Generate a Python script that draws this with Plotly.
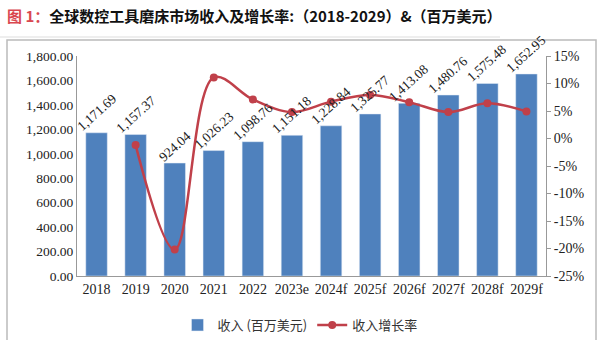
import plotly.graph_objects as go

years = ["2018", "2019", "2020", "2021", "2022", "2023e", "2024f", "2025f", "2026f", "2027f", "2028f", "2029f"]
revenue = [1171.69, 1157.37, 924.04, 1026.23, 1098.76, 1151.18, 1228.84, 1325.77, 1413.08, 1480.76, 1575.48, 1652.95]
growth_years = years[1:]
growth = [-1.2, -20.2, 11.1, 7.1, 4.8, 6.7, 7.9, 6.6, 4.8, 6.4, 4.9]
left_ticks = [0, 200, 400, 600, 800, 1000, 1200, 1400, 1600, 1800]
right_ticks = [-25, -20, -15, -10, -5, 0, 5, 10, 15]

serif = "Liberation Serif"
cjk = "Noto Sans CJK SC"

fig = go.Figure()
fig.add_trace(go.Bar(
    x=years, y=revenue, name="收入 (百万美元)",
    marker=dict(color="#4F81BD"),
))
fig.add_trace(go.Scatter(
    x=growth_years, y=growth, name="收入增长率", yaxis="y2",
    mode="lines+markers",
    line=dict(color="#C0404A", width=2.5, shape="spline", smoothing=1),
    marker=dict(color="#C0404A", size=8),
    cliponaxis=False,
))

annotations = [
    dict(xref="x", yref="y", x=i, y=v, text=f"{v:,.2f}", textangle=-42,
         showarrow=False, xanchor="center", yanchor="bottom", yshift=-4,
         font=dict(family=serif, size=13.5, color="#222"))
    for i, v in enumerate(revenue)
]
annotations.append(
    dict(xref="paper", yref="paper", x=-72/469, y=(276-16)/220,
         xanchor="left", yanchor="middle", showarrow=False,
         text="<span style='color:#D9474F'>图 1：</span>全球数控工具磨床市场收入及增长率:（2018-2029）&（百万美元）",
         font=dict(family=cjk, size=15, color="#111", weight="bold"))
)

fig.update_layout(
    width=600, height=340,
    margin=dict(l=77, r=54, t=56, b=64, autoexpand=False),
    paper_bgcolor="white", plot_bgcolor="white",
    bargap=0.45,
    showlegend=True,
    legend=dict(orientation="h", x=(300-77)/469, xanchor="center",
                y=-(325-276)/220, yanchor="middle",
                font=dict(family=cjk, size=13, color="#333"),
                itemwidth=30, traceorder="normal"),
    xaxis=dict(type="category", range=[-0.5, 11.5], showline=True, linecolor="#999", linewidth=1,
               ticks="", tickfont=dict(family=serif, size=14, color="#222"),
               showgrid=False),
    yaxis=dict(range=[0, 1800], tickvals=left_ticks,
               ticktext=[f"{v:,.2f}" for v in left_ticks],
               showline=True, linecolor="#999", linewidth=1, showgrid=False,
               ticks="", zeroline=False,
               tickfont=dict(family=serif, size=13.5, color="#222")),
    yaxis2=dict(range=[-25, 15], tickvals=right_ticks,
                ticktext=[f"{v}%" for v in right_ticks],
                overlaying="y", side="right", showline=True, linecolor="#999",
                linewidth=1, ticks="outside", ticklen=4, tickcolor="#999",
                showgrid=False, zeroline=False,
                tickfont=dict(family=serif, size=14, color="#222")),
    shapes=[
        dict(type="rect", xref="paper", yref="paper",
             x0=-70/469, x1=(596-77)/469, y0=-0.4, y1=(276-40)/220,
             line=dict(color="#BBBBBB", width=1.5), layer="below"),
        dict(type="line", xref="paper", yref="paper",
             x0=-77/469, x1=(500-77)/469, y0=(276-37)/220, y1=(276-37)/220,
             line=dict(color="#DDDDDD", width=1)),
    ],
    annotations=annotations,
)

fig.write_html("out.html")
